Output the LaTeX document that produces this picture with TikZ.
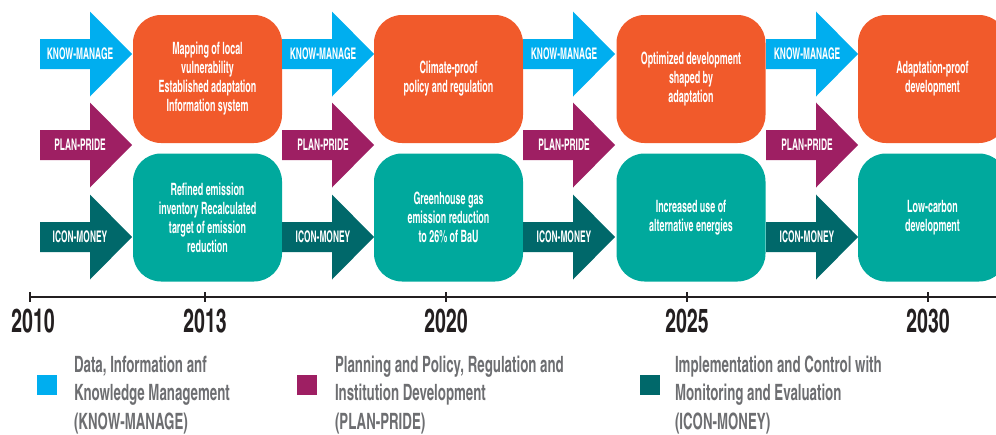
\documentclass[tikz,border=0pt]{standalone}
\usepackage{fontspec}
\setmainfont{TeX Gyre Heros Cn}[FakeStretch=0.72]
\newfontfamily\narrowfont{TeX Gyre Heros Cn}[FakeStretch=0.64]

\definecolor{kmblue}{HTML}{00AEEF}
\definecolor{ppmagenta}{HTML}{9E1F63}
\definecolor{icteal}{HTML}{00686A}
\definecolor{goalorange}{HTML}{F15A2B}
\definecolor{goalteal}{HTML}{00A99D}
\definecolor{legendgray}{HTML}{6D6E71}
\definecolor{axisblack}{HTML}{231F20}

\tikzset{
  fatarrow/.pic = {
    \fill (0, -15) -- (50, -15) -- (50, -42.5) -- (92, 0) -- (50, 42.5) -- (50, 15) -- (0, 15) -- cycle;
  },
  arrowtext/.style = {text=white, font=\narrowfont\bfseries\fontsize{16}{18}\selectfont},
  goalbox/.style = {rounded corners=28pt, minimum width=149pt, minimum height=128pt, inner sep=2pt,
    text=white, align=center, font=\narrowfont\bfseries\fontsize{17}{19}\selectfont},
  axisline/.style = {draw=axisblack, line width=2.5pt},
  yearlabel/.style = {text=axisblack, font=\bfseries\fontsize{33}{36}\selectfont},
  legendkey/.style = {minimum size=20pt, inner sep=0pt},
  legendtext/.style = {anchor=west, align=left, text=legendgray, font=\bfseries\fontsize{22.5}{28.5}\selectfont},
}

\begin{document}
\begin{tikzpicture}[x=1pt, y=-1pt]
    \useasboundingbox (0, 0) rectangle (996, 434);

    \pic[kmblue] at (40, 54) {fatarrow};
    \node[arrowtext] (km1) at (80, 54) {KNOW-MANAGE};
    \pic[ppmagenta] at (40, 145) {fatarrow};
    \node[arrowtext] (pp1) at (80, 145) {PLAN-PRIDE};
    \pic[icteal] at (40, 237) {fatarrow};
    \node[arrowtext] (ic1) at (80, 237) {ICON-MONEY};

    \node[goalbox, fill=goalorange] (adapt1) at (207.5, 79) {Mapping of local\\ vulnerability\\ Established adaptation\\ Information system};
    \node[goalbox, fill=goalteal] (mitig1) at (207.5, 217.5) {Refined emission\\ inventory Recalculated\\ target of emission\\ reduction};

    \pic[kmblue] at (282, 54) {fatarrow};
    \node[arrowtext] (km2) at (323, 54) {KNOW-MANAGE};
    \pic[ppmagenta] at (282, 145) {fatarrow};
    \node[arrowtext] (pp2) at (323, 145) {PLAN-PRIDE};
    \pic[icteal] at (282, 237) {fatarrow};
    \node[arrowtext] (ic2) at (323, 237) {ICON-MONEY};

    \node[goalbox, fill=goalorange] (adapt2) at (448.5, 79) {Climate-proof\\ policy and regulation};
    \node[goalbox, fill=goalteal] (mitig2) at (448.5, 217.5) {Greenhouse gas\\ emission reduction\\ to 26\% of BaU};

    \pic[kmblue] at (523, 54) {fatarrow};
    \node[arrowtext] (km3) at (564, 54) {KNOW-MANAGE};
    \pic[ppmagenta] at (523, 145) {fatarrow};
    \node[arrowtext] (pp3) at (564, 145) {PLAN-PRIDE};
    \pic[icteal] at (523, 237) {fatarrow};
    \node[arrowtext] (ic3) at (564, 237) {ICON-MONEY};

    \node[goalbox, fill=goalorange] (adapt3) at (691, 79) {Optimized development\\ shaped by\\ adaptation};
    \node[goalbox, fill=goalteal] (mitig3) at (691, 217.5) {Increased use of\\ alternative energies};

    \pic[kmblue] at (766, 54) {fatarrow};
    \node[arrowtext] (km4) at (807, 54) {KNOW-MANAGE};
    \pic[ppmagenta] at (766, 145) {fatarrow};
    \node[arrowtext] (pp4) at (807, 145) {PLAN-PRIDE};
    \pic[icteal] at (766, 237) {fatarrow};
    \node[arrowtext] (ic4) at (807, 237) {ICON-MONEY};

    \node[goalbox, fill=goalorange] (adapt4) at (932.5, 79) {Adaptation-proof\\ development};
    \node[goalbox, fill=goalteal] (mitig4) at (932.5, 217.5) {Low-carbon\\ development};

    \coordinate (tk2010) at (30, 297);
    \coordinate (tk2013) at (205, 297);
    \coordinate (tk2020) at (446, 297);
    \coordinate (tk2025) at (687, 297);
    \coordinate (tk2030) at (928, 297);
    \coordinate (tkend) at (1000, 297);
    \draw[axisline] (tk2010) -- (tkend);
    \draw[axisline, line width=2pt] ([yshift=5pt]tk2010) -- ([yshift=-4.5pt]tk2010);
    \draw[axisline, line width=2pt] ([yshift=5pt]tk2013) -- ([yshift=-4.5pt]tk2013);
    \draw[axisline, line width=2pt] ([yshift=5pt]tk2020) -- ([yshift=-4.5pt]tk2020);
    \draw[axisline, line width=2pt] ([yshift=5pt]tk2025) -- ([yshift=-4.5pt]tk2025);
    \draw[axisline, line width=2pt] ([yshift=5pt]tk2030) -- ([yshift=-4.5pt]tk2030);
    \node[yearlabel] (y2010) at (33, 321) {2010};
    \node[yearlabel] (y2013) at (205, 321) {2013};
    \node[yearlabel] (y2020) at (446, 321) {2020};
    \node[yearlabel] (y2025) at (687, 321) {2025};
    \node[yearlabel] (y2030) at (928, 321) {2030};

    \node[legendkey, fill=kmblue] (keykm) at (47, 385) {};
    \node[legendtext] (legkm) at (70.5, 395) {Data, Information anf\\ Knowledge Management\\ (KNOW-MANAGE)};
    \node[legendkey, fill=ppmagenta] (keypp) at (307, 385) {};
    \node[legendtext] (legpp) at (331.5, 395) {Planning and Policy, Regulation and\\ Institution Development\\ (PLAN-PRIDE)};
    \node[legendkey, fill=icteal] (keyic) at (650, 385) {};
    \node[legendtext] (legic) at (671.5, 395) {Implementation and Control with\\ Monitoring and Evaluation\\ (ICON-MONEY)};
\end{tikzpicture}
\end{document}
